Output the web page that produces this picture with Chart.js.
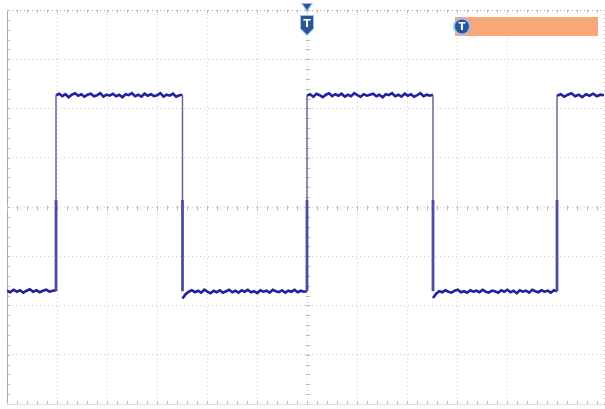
<!DOCTYPE html>
<html>
<head>
<meta charset="utf-8">
<script src="https://cdn.jsdelivr.net/npm/chart.js@4.4.1/dist/chart.umd.min.js"></script>
<style>
  html, body { margin: 0; padding: 0; background: #ffffff; }
  #scope { display: block; }
</style>
</head>
<body>
<canvas id="scope" width="605" height="409"></canvas>
<script>
// Screen geometry in divisions: 12 horizontal, 8 vertical (±4)
const xDivisions = [0, 11.94];
const yDivisions = [-4, 4];

// Edge instants (div) of the square wave: rising, falling, rising, ...
const edgeTimes = [0.98, 3.51, 6.0, 8.52, 11.0];
// Level on the high and low plateaus (div) and where the bright part of an edge starts
const highLevel = 2.27;
const lowLevel = -1.71;
const edgeBright = 0.14;

// Sampled plateau readings (div), one array per plateau, left to right
const plateau1 = [-1.70, -1.73, -1.68, -1.72, -1.69, -1.74, -1.70, -1.67, -1.72, -1.69, -1.73, -1.70, -1.68, -1.72, -1.70, -1.69];
const plateau2 = [2.27, 2.30, 2.25, 2.29, 2.23, 2.28, 2.31, 2.26, 2.29, 2.24, 2.28, 2.30, 2.25, 2.27, 2.31, 2.24, 2.28, 2.26, 2.30, 2.25, 2.28,
                  2.23, 2.29, 2.27, 2.31, 2.25, 2.28, 2.24, 2.30, 2.26, 2.29, 2.25, 2.27, 2.31, 2.24, 2.28, 2.26, 2.30, 2.24, 2.27, 2.28];
const plateau3 = [-1.86, -1.77, -1.72, -1.69, -1.73, -1.70, -1.74, -1.68, -1.72, -1.75, -1.70, -1.73, -1.69, -1.74, -1.71, -1.68, -1.73, -1.70, -1.74, -1.69, -1.72,
                  -1.68, -1.73, -1.71, -1.75, -1.69, -1.72, -1.70, -1.74, -1.68, -1.71, -1.73, -1.69, -1.74, -1.70, -1.72, -1.68, -1.73, -1.70, -1.72, -1.71];
const plateau4 = [2.26, 2.29, 2.24, 2.30, 2.27, 2.23, 2.28, 2.31, 2.25, 2.29, 2.26, 2.30, 2.24, 2.28, 2.25, 2.31, 2.27, 2.24, 2.29, 2.26, 2.28,
                  2.30, 2.25, 2.28, 2.23, 2.29, 2.27, 2.31, 2.25, 2.28, 2.24, 2.30, 2.26, 2.29, 2.24, 2.27, 2.31, 2.25, 2.28, 2.26, 2.28];
const plateau5 = [-1.85, -1.76, -1.71, -1.73, -1.69, -1.72, -1.74, -1.70, -1.68, -1.73, -1.71, -1.74, -1.69, -1.72, -1.70, -1.73, -1.68, -1.72, -1.74, -1.70, -1.71,
                  -1.74, -1.69, -1.72, -1.68, -1.73, -1.70, -1.75, -1.69, -1.72, -1.70, -1.74, -1.68, -1.71, -1.73, -1.69, -1.72, -1.70, -1.74, -1.69, -1.71];
const plateau6 = [2.26, 2.29, 2.24, 2.28, 2.31, 2.25, 2.28, 2.23, 2.29, 2.26, 2.30, 2.25, 2.28, 2.27];

// Trigger position (div)
const triggerTime = 6.0;

const plateaus = [plateau1, plateau2, plateau3, plateau4, plateau5, plateau6];
const bounds = [xDivisions[0], ...edgeTimes, xDivisions[1]];

// plateau points, separated by gaps
const levelPoints = [];
plateaus.forEach((vals, k) => {
  const a = bounds[k], b = bounds[k + 1];
  vals.forEach((v, i) => levelPoints.push({ x: a + (b - a) * i / (vals.length - 1), y: v }));
  levelPoints.push({ x: b, y: null });
});

// vertical edges: faint upper part, bright lower part
const edgeUpper = [];
const edgeLower = [];
edgeTimes.forEach(t => {
  edgeUpper.push({ x: t, y: highLevel }, { x: t, y: edgeBright }, { x: t, y: null });
  edgeLower.push({ x: t, y: edgeBright }, { x: t, y: lowLevel }, { x: t, y: null });
});

// graticule ticks, centre cross and trigger markers
const graticule = {
  id: 'graticule',
  beforeDatasetsDraw(chart) {
    const { ctx, chartArea: ca, scales: { x, y } } = chart;
    ctx.save();
    ctx.strokeStyle = '#bdbdbd';
    ctx.lineWidth = 1;
    const y0 = Math.round(y.getPixelForValue(0)) + 0.5;
    const x0 = Math.round(x.getPixelForValue(triggerTime)) + 0.5;
    ctx.beginPath();
    for (let t = 0; t <= 12.001; t += 0.2) {
      const px = Math.round(x.getPixelForValue(t)) + 0.5;
      if (px > ca.right) break;
      ctx.moveTo(px, y0 - 2); ctx.lineTo(px, y0 + 3);
      ctx.moveTo(px, ca.top); ctx.lineTo(px, ca.top + 3);
      ctx.moveTo(px, ca.bottom); ctx.lineTo(px, ca.bottom - 3);
    }
    for (let v = -4; v <= 4.001; v += 0.2) {
      const py = Math.round(y.getPixelForValue(v)) + 0.5;
      ctx.moveTo(x0 - 2, py); ctx.lineTo(x0 + 3, py);
      ctx.moveTo(ca.left, py); ctx.lineTo(ca.left + 3, py);
    }
    ctx.stroke();
    // bottom edge tint
    ctx.strokeStyle = '#f2d9bd';
    ctx.beginPath();
    ctx.moveTo(ca.left, ca.bottom + 0.5); ctx.lineTo(ca.right, ca.bottom + 0.5);
    ctx.stroke();
    ctx.restore();
  },
  afterDatasetsDraw(chart) {
    const { ctx, scales: { x } } = chart;
    ctx.save();
    // trigger time marker
    const px = x.getPixelForValue(triggerTime);
    ctx.fillStyle = '#8fb7e6';
    ctx.beginPath();
    ctx.moveTo(px - 6, 3); ctx.lineTo(px + 6, 3); ctx.lineTo(px, 12); ctx.closePath();
    ctx.fill();
    ctx.fillStyle = '#2a5597';
    ctx.beginPath();
    ctx.moveTo(px - 4, 4); ctx.lineTo(px + 4, 4); ctx.lineTo(px, 10); ctx.closePath();
    ctx.fill();
    ctx.fillStyle = '#9cc0ea';
    ctx.beginPath();
    ctx.moveTo(px - 7, 15); ctx.lineTo(px + 7, 15); ctx.lineTo(px + 7, 29);
    ctx.lineTo(px, 36); ctx.lineTo(px - 7, 29); ctx.closePath();
    ctx.fill();
    ctx.fillStyle = '#2a5597';
    ctx.beginPath();
    ctx.moveTo(px - 6, 16); ctx.lineTo(px + 6, 16); ctx.lineTo(px + 6, 28.5);
    ctx.lineTo(px, 34.5); ctx.lineTo(px - 6, 28.5); ctx.closePath();
    ctx.fill();
    ctx.fillStyle = '#ffffff';
    ctx.font = 'bold 11px "DejaVu Sans", sans-serif';
    ctx.textAlign = 'center';
    ctx.textBaseline = 'middle';
    ctx.fillText('T', px, 24);

    // trigger level badge
    const bx = 455, by = 17, bw = 143, bh = 19;
    ctx.fillStyle = '#f8a878';
    ctx.fillRect(bx, by, bw, bh);
    ctx.fillStyle = '#9cc0ea';
    ctx.beginPath(); ctx.arc(bx + 7, by + bh / 2, 9, 0, Math.PI * 2); ctx.fill();
    ctx.fillStyle = '#2a5597';
    ctx.beginPath(); ctx.arc(bx + 7, by + bh / 2, 7, 0, Math.PI * 2); ctx.fill();
    ctx.fillStyle = '#ffffff';
    ctx.font = 'bold 10px "DejaVu Sans", sans-serif';
    ctx.fillText('T', bx + 7, by + bh / 2 + 0.5);
    ctx.restore();
  }
};

new Chart(document.getElementById('scope'), {
  type: 'line',
  data: {
    datasets: [
      { label: 'edge-upper', data: edgeUpper, borderColor: '#5e5e92', borderWidth: 1.4, pointRadius: 0, spanGaps: false, tension: 0 },
      { label: 'edge-lower', data: edgeLower, borderColor: '#4d4da6', borderWidth: 2.8, pointRadius: 0, spanGaps: false, tension: 0 },
      { label: 'CH1', data: levelPoints, borderColor: '#22229f', borderWidth: 2.6, pointRadius: 0, spanGaps: false, tension: 0 }
    ]
  },
  options: {
    responsive: false,
    animation: false,
    devicePixelRatio: 1,
    layout: { padding: { left: 7, top: 10, right: 1, bottom: 5 } },
    plugins: { legend: { display: false }, tooltip: { enabled: false } },
    scales: {
      x: {
        type: 'linear',
        min: xDivisions[0], max: xDivisions[1],
        ticks: { display: false, stepSize: 1 },
        grid: { color: ctx => ctx.tick && ctx.tick.value === 0 ? '#a8a8a8' : '#cdcdcd', drawTicks: false, lineWidth: 1 },
        border: { display: true, color: '#a8a8a8', dash: [1, 3] }
      },
      y: {
        min: yDivisions[0], max: yDivisions[1],
        ticks: { display: false, stepSize: 1 },
        grid: { color: ctx => ctx.tick && ctx.tick.value === 4 ? '#a8a8a8' : '#cdcdcd', drawTicks: false, lineWidth: 1 },
        border: { display: true, color: '#a8a8a8', dash: [1, 3] }
      }
    }
  },
  plugins: [graticule]
});
</script>
</body>
</html>
